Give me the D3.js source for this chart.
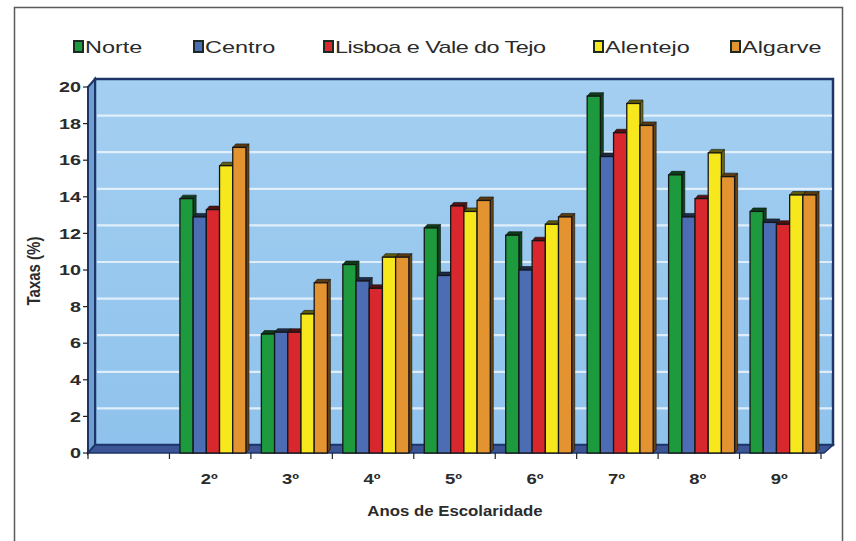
<!DOCTYPE html>
<html>
<head>
<meta charset="utf-8">
<script src="https://cdn.jsdelivr.net/npm/d3@7/dist/d3.min.js"></script>
<style>
  html, body { margin: 0; padding: 0; background: #fff; }
  svg { display: block; font-family: "Liberation Sans", Arial, sans-serif; }
</style>
</head>
<body>
<svg id="chart" width="856" height="541"></svg>
<script>
// School years (the first slot is left empty)
const categories = ["", "2º", "3º", "4º", "5º", "6º", "7º", "8º", "9º"];
const seriesNames = ["Norte", "Centro", "Lisboa e Vale do Tejo", "Alentejo", "Algarve"];
const seriesColors = ["#1e9a3e", "#4c6db3", "#d8282e", "#f6e81c", "#e39330"];

// Rates (%) per region
const norte    = [null, 13.9, 6.5, 10.3, 12.3, 11.9, 19.5, 15.2, 13.2];
const centro   = [null, 12.9, 6.6,  9.4,  9.7, 10.0, 16.2, 12.9, 12.6];
const lisboa   = [null, 13.3, 6.6,  9.0, 13.5, 11.6, 17.5, 13.9, 12.5];
const alentejo = [null, 15.7, 7.6, 10.7, 13.2, 12.5, 19.1, 16.4, 14.1];
const algarve  = [null, 16.7, 9.3, 10.7, 13.8, 12.9, 17.9, 15.1, 14.1];

const yTicks = [0, 2, 4, 6, 8, 10, 12, 14, 16, 18, 20];
const xTitle = "Anos de Escolaridade";
const yTitle = "Taxas (%)";

const seriesValues = [norte, centro, lisboa, alentejo, algarve];

const svg = d3.select("#chart");
const textColor = "#2b2b2b";
// the lettering is set wide
const stretch = 1.32;
const legendStretch = 1.38;

// outer frame
svg.append("rect")
  .attr("x", 14.5).attr("y", 7.5).attr("width", 828).attr("height", 560)
  .attr("fill", "#fff").attr("stroke", "#5a5a5a").attr("stroke-width", 1.5);

// 3D depth of the walls
const depth = { dx: 7, dy: -8 };
const x0 = 88, x1 = 821;
const y = d3.scaleLinear().domain([0, 20]).range([453, 87]);
const x = d3.scaleBand().domain(categories).range([x0, x1]).paddingInner(0).paddingOuter(0);
const inner = d3.scaleBand().domain(seriesNames).range([0, 66]);
const groupOffset = 10.5;

const defs = svg.append("defs");
const wallGrad = defs.append("linearGradient").attr("id", "wallGrad")
  .attr("x1", 0).attr("y1", 0).attr("x2", 0).attr("y2", 1);
wallGrad.append("stop").attr("offset", "0%").attr("stop-color", "#a4cff1");
wallGrad.append("stop").attr("offset", "100%").attr("stop-color", "#8fc2ec");

const navy = "#1c3468";

// back wall
svg.append("rect")
  .attr("x", x0 + depth.dx).attr("y", y(20) + depth.dy)
  .attr("width", (x1 + 12) - (x0 + depth.dx)).attr("height", y(0) - y(20))
  .attr("fill", "url(#wallGrad)").attr("stroke", navy).attr("stroke-width", 2.5);

// gridlines on the back wall
svg.append("g").selectAll("line")
  .data(yTicks.filter(t => t > 0 && t < 20))
  .join("line")
  .attr("x1", x0 + depth.dx + 2).attr("x2", x1 + 11)
  .attr("y1", d => y(d) + depth.dy).attr("y2", d => y(d) + depth.dy)
  .attr("stroke", "#e8f3fc").attr("stroke-width", 2.2).attr("opacity", 0.9);

// side wall
const sidePts = [[x0, y(0)], [x0, y(20)], [x0 + depth.dx, y(20) + depth.dy], [x0 + depth.dx, y(0) + depth.dy]];
svg.append("polygon")
  .attr("points", sidePts.map(p => p.join(",")).join(" "))
  .attr("fill", "#6f9fd0").attr("stroke", navy).attr("stroke-width", 2);

// floor
const floorPts = [[x0, y(0)], [x1 + 3, y(0)], [x1 + 12, y(0) + depth.dy], [x0 + depth.dx, y(0) + depth.dy]];
svg.append("polygon")
  .attr("points", floorPts.map(p => p.join(",")).join(" "))
  .attr("fill", "#3b5596").attr("stroke", navy).attr("stroke-width", 1.5);

// bars
const bd = { dx: 3, dy: -3.5 };
const bars = svg.append("g");
categories.forEach((cat, ci) => {
  seriesNames.forEach((name, si) => {
    const v = seriesValues[si][ci];
    if (v == null) return;
    const bx = x(cat) + groupOffset + inner(name);
    const bw = inner.bandwidth();
    const top = y(v), base = y(0);
    const col = d3.color(seriesColors[si]);
    const g = bars.append("g");
    // side face
    g.append("polygon")
      .attr("points", [[bx + bw, base], [bx + bw, top], [bx + bw + bd.dx, top + bd.dy], [bx + bw + bd.dx, base + bd.dy]].map(p => p.join(",")).join(" "))
      .attr("fill", col.darker(2.2)).attr("stroke", "#111").attr("stroke-width", 0.6);
    // top face
    g.append("polygon")
      .attr("points", [[bx, top], [bx + bw, top], [bx + bw + bd.dx, top + bd.dy], [bx + bd.dx, top + bd.dy]].map(p => p.join(",")).join(" "))
      .attr("fill", col.darker(2.6)).attr("stroke", "#111").attr("stroke-width", 0.6);
    // front face
    g.append("rect")
      .attr("x", bx).attr("y", top).attr("width", bw).attr("height", base - top)
      .attr("fill", col).attr("stroke", "#161616").attr("stroke-width", 1.3);
  });
});

// y axis ticks and labels
const yAxis = svg.append("g");
yAxis.selectAll("line").data(yTicks).join("line")
  .attr("x1", x0 - 5).attr("x2", x0).attr("y1", d => y(d)).attr("y2", d => y(d))
  .attr("stroke", "#222").attr("stroke-width", 1.2);
yAxis.selectAll("text").data(yTicks).join("text")
  .attr("transform", d => `translate(${x0 - 7},${y(d)}) scale(${stretch},1)`)
  .attr("dy", "0.35em")
  .attr("text-anchor", "end").attr("font-size", 15).attr("font-weight", "bold")
  .attr("fill", textColor).text(d => d);

// x axis ticks and labels
const boundaries = categories.map(c => x(c)).concat([x1]);
svg.append("g").selectAll("line").data(boundaries).join("line")
  .attr("x1", d => d).attr("x2", d => d).attr("y1", y(0)).attr("y2", y(0) + 6)
  .attr("stroke", "#222").attr("stroke-width", 1.2);
svg.append("g").selectAll("text").data(categories).join("text")
  .attr("transform", d => `translate(${x(d) + x.bandwidth() / 2 - 1},484) scale(${stretch},1)`)
  .attr("text-anchor", "middle").attr("font-size", 14).attr("font-weight", "bold")
  .attr("fill", textColor).text(d => d);

// axis titles
svg.append("text")
  .attr("transform", `translate(455,516) scale(1.2,1)`).attr("text-anchor", "middle")
  .attr("font-size", 14).attr("font-weight", "bold").attr("fill", textColor).text(xTitle);
svg.append("text")
  .attr("transform", "translate(33,271) rotate(-90) scale(1,1.25)").attr("text-anchor", "middle")
  .attr("dy", "0.35em")
  .attr("font-size", 15).attr("font-weight", "bold").attr("fill", textColor).text(yTitle);

// legend
const legendX = [74, 194, 324, 594, 731];
const legend = svg.append("g");
seriesNames.forEach((name, i) => {
  const lg = legend.append("g").attr("transform", `translate(${legendX[i]},47)`);
  lg.append("rect").attr("x", 0).attr("y", -6).attr("width", 9).attr("height", 11)
    .attr("fill", seriesColors[i]).attr("stroke", "#1a2a22").attr("stroke-width", 2);
  lg.append("text")
    .attr("transform", `translate(11,0) scale(${legendStretch},1)`)
    .attr("dy", "0.36em")
    .attr("font-size", 17).attr("letter-spacing", i === 2 ? -0.4 : 0)
    .attr("fill", textColor).text(name);
});
</script>
</body>
</html>
